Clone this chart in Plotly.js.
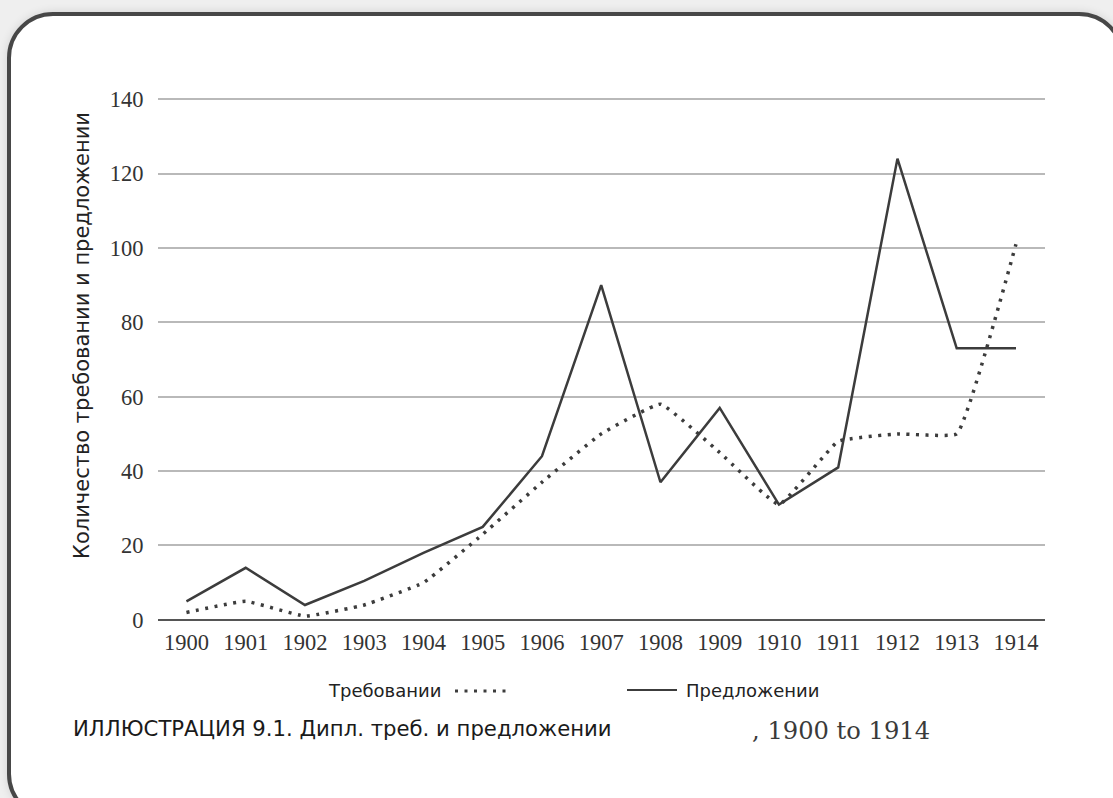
<!DOCTYPE html>
<html>
<head>
<meta charset="utf-8">
<script src="https://cdn.plot.ly/plotly-3.0.1.min.js"></script>
<style>
  html, body { margin:0; padding:0; width:1113px; height:798px; overflow:hidden; background:#efefef; }
  #frame { position:absolute; left:7px; top:12px; width:1110px; height:800px; border:4px solid #474747; border-radius:46px; background:#fff; box-shadow:0 0 10px rgba(0,0,0,0.12); }
  #chart { position:absolute; left:0; top:0; width:1113px; height:798px; }
</style>
</head>
<body>
<div id="frame"></div>
<div id="chart"></div>
<script>
const years = [1900,1901,1902,1903,1904,1905,1906,1907,1908,1909,1910,1911,1912,1913,1914];
const demands = [2,5,1,4,10,23,37,50,58,45,31,48,50,50,101];   // Требовании
const offers  = [5,14,4,10.5,18,25,44,90,37,57,31,41,124,73,73]; // Предложении
const yTicks = [0,20,40,60,80,100,120,140];
const seriesNames = ['Требовании','Предложении'];

const ink = '#3c3c3c';
const sans = 'DejaVu Sans, Verdana, sans-serif';
const serif = 'Liberation Serif, Times New Roman, serif';
const serif2 = 'DejaVu Serif, Georgia, serif';

const traces = [
  { x: years, y: demands, name: seriesNames[0], mode: 'lines',
    line: { color: ink, width: 3.5, dash: '3px,6.5px', shape: 'spline', smoothing: 0.3 }, hoverinfo:'skip' },
  { x: years, y: offers, name: seriesNames[1], mode: 'lines',
    line: { color: ink, width: 2.5 }, hoverinfo:'skip' }
];

// pixel helpers for the plot area (l=158, r=1045, t=98, b=621)
const px = p => (p - 158) / 887;
const py = p => (621 - p) / 523;

const layout = {
  width: 1113, height: 798,
  margin: { l: 158, r: 68, t: 98, b: 177 },
  paper_bgcolor: 'rgba(0,0,0,0)', plot_bgcolor: 'rgba(0,0,0,0)',
  showlegend: false,
  xaxis: {
    range: [1899.52, 1914.49], tickvals: years, ticktext: years.map(String),
    showgrid: false, zeroline: false, showline: false,
    ticks: 'outside', ticklen: 1, tickcolor: 'rgba(0,0,0,0)',
    tickfont: { family: serif, size: 22.5, color: '#333' }, fixedrange: true
  },
  yaxis: {
    range: [-0.3, 140.3], tickvals: yTicks,
    showgrid: true, gridcolor: '#b9b9b9', gridwidth: 2,
    zeroline: true, zerolinecolor: '#555', zerolinewidth: 2.5, showline: false,
    ticks: 'outside', ticklen: 9, tickcolor: 'rgba(0,0,0,0)',
    tickfont: { family: serif, size: 22.5, color: '#333' }, fixedrange: true
  },
  annotations: [
    { xref:'paper', yref:'paper', x: px(82), y: py(336), text: 'Количество требовании и предложении',
      textangle: -90, showarrow:false, xanchor:'center', yanchor:'middle',
      font: { family: sans, size: 21, color: '#222' } },
    { xref:'paper', yref:'paper', x: px(443), y: py(690), text: seriesNames[0],
      showarrow:false, xanchor:'right', yanchor:'middle', font: { family: sans, size: 18, color: '#222' } },
    { xref:'paper', yref:'paper', x: px(684), y: py(690), text: seriesNames[1],
      showarrow:false, xanchor:'left', yanchor:'middle', font: { family: sans, size: 18, color: '#222' } },
    { xref:'paper', yref:'paper', x: px(71), y: py(728), text: 'ИЛЛЮСТРАЦИЯ 9.1. Дипл. треб. и предложении',
      showarrow:false, xanchor:'left', yanchor:'middle', font: { family: sans, size: 21.2, color: '#1a1a1a' } },
    { xref:'paper', yref:'paper', x: px(750), y: py(731), text: ', 1900 to 1914',
      showarrow:false, xanchor:'left', yanchor:'middle', font: { family: serif2, size: 24.2, color: '#3a3a3a' } }
  ],
  shapes: [
    { type:'line', xref:'paper', yref:'paper', x0: px(455), x1: px(508), y0: py(691), y1: py(691),
      line: { color: ink, width: 3, dash: '3px,6.5px' } },
    { type:'line', xref:'paper', yref:'paper', x0: px(627), x1: px(677), y0: py(690), y1: py(690),
      line: { color: ink, width: 2 } }
  ]
};

Plotly.newPlot('chart', traces, layout, { staticPlot: true, displayModeBar: false });
</script>
</body>
</html>
